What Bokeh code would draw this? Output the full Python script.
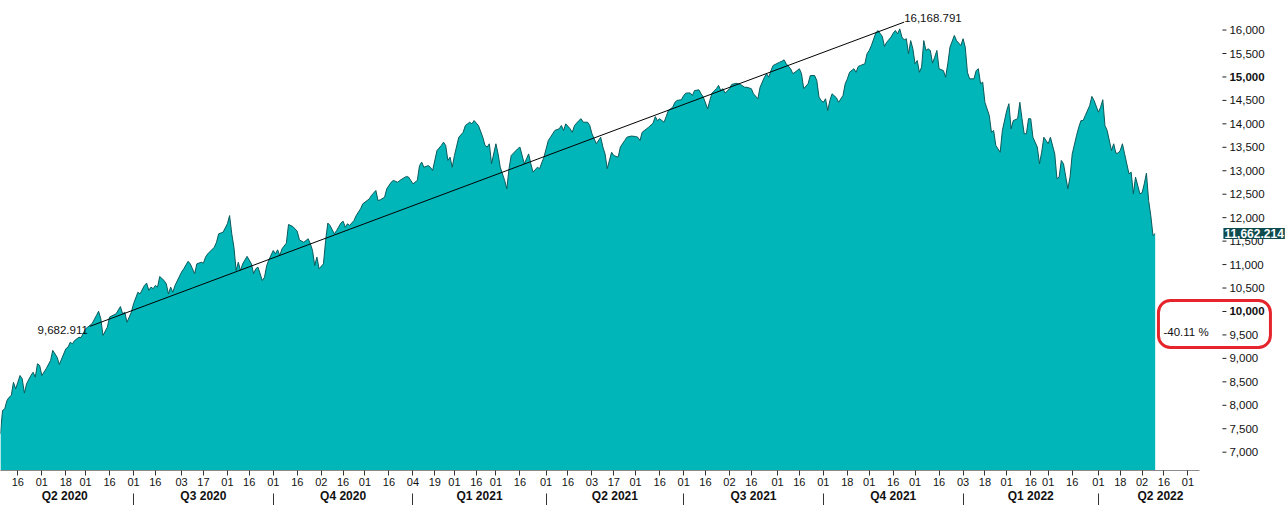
import pandas as pd
from bokeh.plotting import figure
from bokeh.models import (Range1d, LinearAxis, FixedTicker, CustomJSTickFormatter,
                          Label, BoxAnnotation, ColumnDataSource)
from bokeh.core.properties import value
from bokeh.embed import file_html
from bokeh.resources import INLINE

# ---------------- data ----------------
# trading-day index (0 = 2020-04-01) and index level
trading_day = [
    2, 3, 4, 5, 6, 7, 8, 9, 10, 11, 12, 13, 14, 16, 17, 18, 19, 20, 21, 23, 25, 26, 28, 29,
    32, 33, 34, 35, 36, 38, 39, 41, 42, 44, 46, 47, 48, 49, 51, 52, 55, 57, 58, 59, 60, 62,
    63, 65, 66, 68, 69, 70, 71, 72, 73, 74, 75, 77, 78, 79, 80, 81, 82, 85, 86, 88, 89, 91,
    92, 94, 95, 96, 97, 100, 101, 102, 104, 106, 107, 108, 109, 110, 111, 112, 113, 115,
    117, 118, 119, 120, 122, 123, 124, 125, 127, 128, 129, 130, 131, 133, 134, 136, 138,
    139, 141, 143, 144, 145, 146, 147, 148, 150, 151, 152, 153, 155, 156, 158, 159, 160,
    161, 162, 164, 165, 167, 168, 171, 172, 174, 175, 176, 178, 179, 181, 182, 184, 185,
    188, 189, 190, 191, 193, 194, 195, 196, 198, 199, 200, 202, 204, 205, 206, 207, 208,
    209, 210, 212, 214, 215, 217, 218, 219, 221, 223, 224, 225, 226, 227, 229, 230, 231,
    233, 234, 235, 236, 239, 240, 242, 243, 244, 245, 246, 248, 249, 251, 253, 254, 256,
    258, 259, 260, 261, 263, 264, 265, 267, 268, 269, 271, 272, 273, 275, 277, 278, 279,
    280, 282, 283, 285, 286, 288, 289, 291, 293, 294, 295, 296, 298, 299, 301, 302, 303,
    304, 306, 307, 308, 310, 311, 312, 314, 315, 316, 318, 319, 320, 322, 323, 324, 326,
    327, 328, 330, 331, 332, 333, 334, 336, 337, 339, 340, 341, 343, 344, 346, 347, 349,
    350, 352, 353, 354, 355, 356, 359, 360, 361, 362, 364, 365, 366, 368, 369, 370, 372,
    373, 375, 376, 377, 378, 379, 380, 381, 382, 383, 385, 386, 388, 389, 390, 391, 393,
    394, 395, 396, 398, 399, 400, 401, 403, 404, 406, 407, 408, 410, 411, 412, 413, 414,
    415, 416, 417, 418, 419, 420, 421, 422, 423, 424, 425, 426, 427, 428, 429, 430, 431,
    432, 434, 435, 436, 437, 439, 440, 442, 443, 444, 445, 446, 448, 449, 450, 451, 452,
    453, 455, 456, 457, 458, 460, 461, 463, 464, 465, 466, 468, 469, 470, 471, 472, 473,
    474, 475, 477, 478, 479, 480, 481, 482, 483, 485, 486, 487, 488, 489, 491, 492, 493,
    495, 496, 497, 498, 499, 501, 502, 503, 505, 506, 507, 508, 509, 511, 512, 513, 514,
    515, 516, 517, 519, 520, 521, 522, 524, 525, 526, 527, 528, 529, 530, 531,
]
close = [
    7390, 7890, 7925, 8100, 8170, 8210, 8490, 8350, 8490, 8635, 8565, 8260, 8460, 8635, 8705,
    8600, 8885, 8850, 8635, 8780, 8955, 9170, 9025, 8870, 9205, 9240, 9345, 9310, 9380,
    9450, 9445, 9630, 9665, 9740, 9915, 10005, 9845, 9490, 9665, 9880, 9950, 10105, 9950,
    9985, 9770, 9985, 10165, 10410, 10375, 10555, 10605, 10450, 10520, 10485, 10555, 10520,
    10745, 10660, 10590, 10375, 10520, 10410, 10555, 10840, 10910, 11070, 11015, 10805,
    11015, 11050, 11030, 11160, 11230, 11370, 11475, 11655, 11690, 11870, 12045, 11655,
    11370, 10875, 11050, 10875, 11015, 11175, 11015, 10805, 10910, 10945, 10660, 10730,
    10980, 11100, 11300, 11230, 11315, 11195, 11335, 11455, 11855, 11810, 11710, 11525,
    11475, 11550, 11445, 11300, 10980, 11160, 10910, 11015, 11515, 11885, 11835, 11655,
    11725, 11885, 11925, 11795, 11870, 11835, 11940, 12045, 12190, 12295, 12400, 12475,
    12580, 12365, 12380, 12435, 12615, 12755, 12795, 12755, 12795, 12880, 12865, 12795,
    12720, 12795, 13110, 13185, 13075, 13110, 13075, 13005, 13430, 13540, 13610, 13540,
    13220, 13290, 13075, 13325, 13715, 13820, 13965, 14035, 14000, 14070, 13965, 13715,
    13540, 13505, 13575, 13150, 13575, 13360, 13075, 12795, 12615, 13045, 13325, 13470,
    13505, 13150, 13255, 13360, 13150, 12970, 13075, 13045, 13290, 13645, 13715, 13860,
    13895, 13965, 13860, 14000, 13895, 13820, 13965, 14070, 14110, 14035, 14035, 13965,
    13790, 13575, 13715, 13505, 13360, 13045, 13395, 13325, 13290, 13505, 13645, 13715,
    13740, 13730, 13715, 13645, 13820, 13895, 13930, 14015, 14155, 14070, 14110, 14035,
    14155, 14285, 14355, 14460, 14500, 14515, 14605, 14655, 14660, 14605, 14710, 14725,
    14640, 14570, 14320, 14500, 14655, 14750, 14820, 14710, 14750, 14655, 14750, 14840,
    14865, 14855, 14840, 14780, 14780, 14750, 14640, 14535, 14780, 14995, 15070, 14995,
    15135, 15245, 15315, 15335, 15365, 15280, 15175, 15070, 15100, 15175, 15070, 14750,
    14855, 15030, 15030, 14925, 14570, 14500, 14460, 14535, 14285, 14500, 14640, 14555,
    14460, 14605, 14855, 14960, 15100, 15175, 15100, 15225, 15245, 15280, 15495, 15565,
    15670, 15935, 15990, 15865, 15650, 15740, 15850, 15935, 15990, 15920, 16025, 15850,
    15790, 15815, 15495, 15775, 15600, 15280, 15350, 15100, 15210, 15775, 15565, 15600,
    15565, 15295, 15420, 15565, 15175, 15135, 14995, 15280, 15635, 15885, 15775, 15670,
    15815, 15635, 15100, 14960, 14960, 15135, 15175, 14855, 14890, 14460, 14180, 13820,
    13860, 13540, 13395, 13860, 14285, 14430, 13895, 14070, 14110, 14460, 14110, 13790,
    13790, 14110, 14110, 13715, 13505, 13150, 13395, 13715, 13645, 13575, 13715, 13360,
    12830, 12865, 13220, 13150, 12615, 12865, 13360, 13755, 13930, 14070, 14070, 14180,
    14390, 14585, 14500, 14250, 14355, 14515, 13965, 13860, 13430, 13575, 13375, 13375,
    13430, 13575, 13360, 12935, 12970, 12510, 12865, 12510, 12530, 12720, 12950, 12365,
    12045, 11620, 11662.214,
]

# trend line drawn on the chart (trading-day index, level)
trend_day = [43, 416]
trend_value = [9682.911, 16168.791]

# US market holidays (trading calendar of the x axis)
holidays = [
    "2020-04-10", "2020-05-25", "2020-07-03", "2020-09-07", "2020-11-26", "2020-12-25",
    "2021-01-01", "2021-01-18", "2021-02-15", "2021-04-02", "2021-05-31", "2021-07-05",
    "2021-09-06", "2021-11-25", "2021-12-24", "2022-01-17", "2022-02-21", "2022-04-15",
    "2022-05-30", "2022-06-20", "2022-07-04",
]
tick_dates = [
    "2020-04-01", "2020-04-16", "2020-05-01", "2020-05-18", "2020-06-01", "2020-06-16",
    "2020-07-01", "2020-07-16", "2020-08-03", "2020-08-17", "2020-09-01", "2020-09-16",
    "2020-10-01", "2020-10-16", "2020-11-02", "2020-11-16", "2020-12-01", "2020-12-16",
    "2021-01-04", "2021-01-19", "2021-02-01", "2021-02-16", "2021-03-01", "2021-03-16",
    "2021-04-01", "2021-04-16", "2021-05-03", "2021-05-17", "2021-06-01", "2021-06-16",
    "2021-07-01", "2021-07-16", "2021-08-02", "2021-08-16", "2021-09-01", "2021-09-16",
    "2021-10-01", "2021-10-18", "2021-11-01", "2021-11-16", "2021-12-01", "2021-12-16",
    "2022-01-03", "2022-01-18", "2022-02-01", "2022-02-16", "2022-03-01", "2022-03-16",
    "2022-04-01", "2022-04-18", "2022-05-02", "2022-05-16", "2022-06-01",
]
quarter_starts = ["2020-04-01", "2020-07-01", "2020-10-01", "2021-01-04", "2021-04-01",
                  "2021-07-01", "2021-10-01", "2022-01-03", "2022-04-01"]
quarter_labels = ["Q2 2020", "Q3 2020", "Q4 2020", "Q1 2021", "Q2 2021",
                  "Q3 2021", "Q4 2021", "Q1 2022", "Q2 2022"]
y_ticks = list(range(7000, 16001, 500))
bold_y_ticks = [10000, 15000]

# ---------------- calendar helpers ----------------
cal = pd.bdate_range("2020-04-01", "2022-09-30", freq="C", holidays=holidays)


def day_index(d):
    return int(cal.searchsorted(pd.Timestamp(d)))


tick_idx = [day_index(d) for d in tick_dates]
tick_lab = [pd.Timestamp(d).strftime("%d") for d in tick_dates]
q_start_idx = [day_index(d) for d in quarter_starts]

# layout (x in trading days, y in index points)
X0, X1 = 2.06, 590.7          # visible x span (frame covers whole width)
AXIS_X = 561.8                # where the value scale is drawn
XAXIS_END = 551.3             # end of the date axis line
Y1 = 16630
Y0 = Y1 - 470 * 21.32
q_edges = q_start_idx + [AXIS_X]
q_centers = [(q_edges[k] + q_edges[k + 1]) / 2.0 for k in range(len(q_start_idx))]

FONT = "Liberation Sans"
TXT = "#111111"
FILL = "#00B6B8"
EDGE = "#0B5A5C"

p = figure(width=1285, height=505, x_range=Range1d(X0, X1), y_range=Range1d(Y0, Y1),
           output_backend="svg", toolbar_location=None, y_axis_location=None,
           min_border_left=0, min_border_top=0, min_border_right=0, min_border_bottom=0)
p.outline_line_color = None
p.grid.visible = False
p.background_fill_color = "white"
p.border_fill_color = "white"

src = ColumnDataSource(dict(x=trading_day, y=close, base=[Y0] * len(close)))
p.varea(x="x", y1="base", y2="y", source=src, fill_color=FILL)
p.line(x="x", y="y", source=src, line_color=EDGE, line_width=1)

# trend line
p.line(x=trend_day, y=trend_value, line_color="black", line_width=1)

# ---------------- value scale on the right ----------------
reg_ticks = [v for v in y_ticks if v not in bold_y_ticks]
p.ray(x=[AXIS_X] * len(y_ticks), y=y_ticks, length=4, length_units="screen", angle=0,
      line_color="#222222", line_width=1)
p.text(x=[AXIS_X] * len(reg_ticks), y=reg_ticks, text=[f"{v:,}" for v in reg_ticks],
       x_offset=7, text_font=value(FONT), text_font_size="11.5px", text_color=TXT,
       text_align="left", text_baseline="middle")
p.text(x=[AXIS_X] * len(bold_y_ticks), y=bold_y_ticks, text=[f"{v:,}" for v in bold_y_ticks],
       x_offset=7, text_font=value(FONT), text_font_size="11.5px", text_font_style="bold",
       text_color=TXT, text_align="left", text_baseline="middle")

# ---------------- bottom axes ----------------
xax = p.xaxis[0]
xax.bounds = (X0, XAXIS_END)
xax.ticker = FixedTicker(ticks=tick_idx)
xax.formatter = CustomJSTickFormatter(
    args=dict(pos=tick_idx, lab=tick_lab),
    code="const k = pos.indexOf(tick); return k < 0 ? '' : lab[k];")
xax.axis_line_color = "#8a8a8a"
xax.major_tick_in = 0
xax.major_tick_out = 5
xax.major_tick_line_color = "#333333"
xax.minor_tick_line_color = None
xax.major_label_standoff = 2
xax.major_label_text_font = FONT
xax.major_label_text_font_size = "11px"
xax.major_label_text_color = TXT

qax = LinearAxis(
    ticker=FixedTicker(ticks=q_centers, minor_ticks=[]),
    formatter=CustomJSTickFormatter(
        args=dict(pos=q_centers, lab=quarter_labels),
        code="const k = pos.indexOf(tick); return k < 0 ? '' : lab[k];"),
    axis_line_color=None, major_tick_line_color=None, minor_tick_line_color=None,
    major_tick_in=0, major_tick_out=0, minor_tick_in=0, minor_tick_out=0,
    major_label_standoff=0, major_label_text_font=FONT, major_label_text_font_size="12px",
    major_label_text_font_style="bold", major_label_text_color=TXT)
p.add_layout(qax, "below")

# quarter separators: ticks pointing up from the bottom edge
sep = LinearAxis(
    ticker=FixedTicker(ticks=[], minor_ticks=q_start_idx),
    axis_line_color=None, major_tick_line_color=None, major_label_text_font_size="0px",
    major_tick_in=0, major_tick_out=0, minor_tick_in=12, minor_tick_out=0,
    minor_tick_line_color="#333333", major_label_standoff=0)
p.add_layout(sep, "below")

# ---------------- annotations ----------------
p.add_layout(Label(x=trend_day[0], y=trend_value[0], x_offset=-2, text=f"{trend_value[0]:,.3f}",
                   text_font=FONT, text_font_size="11.5px", text_color=TXT,
                   text_align="right", text_baseline="top"))
p.add_layout(Label(x=trend_day[1], y=trend_value[1], text=f"{trend_value[1]:,.3f}",
                   text_font=FONT, text_font_size="11.5px", text_color=TXT,
                   text_align="left", text_baseline="bottom"))

pct = (trend_value[0] / trend_value[1] - 1) * 100
p.add_layout(Label(x=trading_day[-1] + 3.8, y=9573, text=f"{pct:.2f} %",
                   text_font=FONT, text_font_size="11.5px", text_color=TXT,
                   text_align="left", text_baseline="middle"))
p.add_layout(BoxAnnotation(left=trading_day[-1] + 1.5, right=trading_day[-1] + 52.8,
                           top=10234, bottom=9232, fill_alpha=0, fill_color=None,
                           line_color="#E5242B", line_alpha=1.0, line_width=3,
                           border_radius=12))

p.add_layout(Label(x=AXIS_X, y=close[-1], x_offset=1, text=f"{close[-1]:,.3f}", text_font=FONT,
                   text_font_size="12px", text_font_style="bold", text_color="white",
                   background_fill_color="#0D4B4E", padding=1,
                   text_align="left", text_baseline="middle"))

open("out.html", "w").write(file_html(p, INLINE, title="chart"))
